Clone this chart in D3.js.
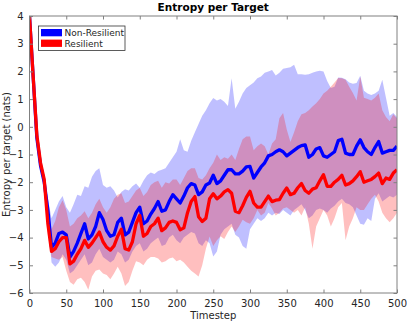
<!DOCTYPE html>
<html>
<head>
<meta charset="utf-8">
<script src="https://cdn.jsdelivr.net/npm/d3@7"></script>
<style>
  body { margin: 0; background: #fff; }
  svg { display: block; font-family: "DejaVu Sans", sans-serif; }
</style>
</head>
<body>
<div id="chart"></div>
<script>
const width = 407;
const height = 322;

// timesteps sampled every 5
const steps = d3.range(0, 505, 5);

const blueMean = [4.0, 1.8, -0.4, -1.4, -2.0, -3.0, -4.35, -4.2, -3.85, -3.8,
  -3.9, -4.7, -4.5, -4.2, -3.85, -3.5, -4.05, -3.9, -3.6, -3.1,
  -3.35, -3.75, -3.95, -3.9, -3.45, -3.3, -3.9, -3.8, -3.45, -3.1,
  -2.9, -3.5, -3.4, -3.15, -2.95, -2.7, -3.05, -3.0, -2.7, -2.45,
  -2.6, -2.75, -2.5, -2.2, -2.05, -2.1, -2.45, -2.35, -2.1, -2.03,
  -1.75, -2.05, -1.95, -1.75, -1.55, -1.55, -1.7, -1.7, -1.6, -1.45,
  -1.43, -1.85, -1.65, -1.45, -1.3, -1.05, -1.0, -0.9, -0.83, -0.9,
  -1.05, -0.95, -0.85, -0.75, -0.68, -0.65, -1.1, -1.0, -0.8, -0.75,
  -1.05, -1.1, -1.0, -0.9, -0.5, -0.45, -0.95, -1.0, -1.0, -0.7,
  -0.47, -0.75, -0.9, -1.0, -0.75, -0.53, -0.95, -0.9, -0.85, -0.85, -0.7];

const redMean = [4.0, 1.8, -0.3, -1.3, -1.9, -3.5, -4.5, -4.4, -4.15, -4.0,
  -4.0, -4.95, -4.85, -4.6, -4.4, -4.1, -4.35, -4.2, -4.0, -3.8,
  -4.15, -4.35, -4.45, -4.3, -3.95, -3.7, -4.4, -4.45, -4.15, -3.5,
  -3.2, -3.95, -3.85, -3.6, -3.5, -3.3, -3.75, -3.65, -3.45, -3.4,
  -3.45, -3.72, -3.65, -3.1, -2.7, -2.52, -3.25, -3.42, -3.3, -2.6,
  -2.42, -2.6, -2.5, -2.35, -2.27, -2.4, -3.05, -3.1, -2.85, -2.55,
  -2.33, -2.75, -2.9, -2.9, -2.7, -2.5, -2.7, -2.65, -2.63, -2.4,
  -2.21, -2.45, -2.4, -2.2, -2.05, -2.3, -2.4, -2.25, -2.2, -1.95,
  -1.73, -2.15, -2.15, -2.0, -1.9, -1.75, -2.1, -2.05, -1.95, -1.8,
  -1.62, -2.0, -1.95, -1.9, -1.8, -1.67, -2.05, -1.85, -1.9, -1.67, -1.55];

const blueUpper = [4.0, 2.0, -0.2, -1.1, -1.7, -2.6, -3.3, -3.0, -2.7, -2.5,
  -2.9, -3.1, -2.8, -2.45, -2.5, -2.15, -2.2, -1.8, -1.6, -1.5,
  -2.1, -2.2, -2.15, -2.3, -2.55, -2.35, -2.25, -2.3, -2.15, -2.05,
  -2.2, -1.95, -1.75, -1.65, -1.7, -1.6, -1.55, -1.5, -1.3, -1.1,
  -0.9, -0.45, -0.85, -0.9, -0.5, -0.2, 0.1, 0.4, 0.6, 0.85,
  1.04, 0.95, 1.0, 0.9, 0.75, 1.75, 0.65, 0.9, 1.2, 1.4,
  1.5, 1.6, 1.75, 1.82, 1.95, 2.0, 2.05, 1.85, 1.95, 2.1,
  2.12, 2.15, 2.24, 1.9, 1.9, 1.88, 1.9, 1.95, 2.0, 2.02,
  2.0, 1.65, 1.4, 1.45, 1.78, 1.77, 1.72, 1.6, 1.55, 1.58,
  1.84, 1.3, 1.2, 1.15, 1.2, 1.3, 1.7, 1.05, 0.4, 0.5, 0.35];

const blueLower = [4.0, 1.75, -0.55, -1.55, -2.15, -3.5, -4.9, -5.05, -4.9, -4.6,
  -4.8, -5.3, -5.2, -5.0, -4.8, -4.6, -5.0, -4.9, -4.6, -4.4,
  -4.7, -4.8, -4.9, -4.8, -4.5, -4.6, -4.9, -4.8, -4.5, -4.3,
  -4.2, -4.5, -4.4, -4.2, -4.1, -4.0, -4.3, -4.25, -4.0, -3.9,
  -4.1, -4.2, -4.0, -3.9, -3.8, -3.85, -4.2, -4.3, -4.1, -4.2,
  -4.68, -4.5, -3.9, -3.7, -3.6, -3.5, -3.9, -4.0, -4.3, -4.4,
  -3.7, -3.5, -3.3, -3.4, -3.3, -3.1, -3.2, -3.1, -3.15, -3.0,
  -3.1, -3.2, -3.0, -2.9, -2.8, -3.0, -3.3, -3.2, -3.0, -2.95,
  -3.0, -3.1, -2.95, -2.85, -2.7, -2.6, -2.75, -2.8, -2.9, -3.2,
  -3.5, -3.54, -3.3, -3.4, -2.6, -2.4, -2.7, -2.6, -2.5, -2.55, -2.45];

const redUpper = [4.0, 1.9, -0.25, -1.2, -1.8, -2.9, -3.7, -3.4, -2.9, -2.65,
  -3.0, -3.6, -3.5, -3.3, -3.2, -3.05, -3.3, -3.1, -2.8, -2.6,
  -2.9, -3.1, -2.9, -2.6, -2.45, -2.4, -2.75, -2.7, -2.5, -2.3,
  -2.2, -2.5, -2.35, -2.1, -2.0, -1.95, -2.2, -2.0, -2.05, -1.9,
  -1.9, -2.1, -1.85, -1.6, -1.5, -1.5, -1.85, -1.9, -1.75, -1.5,
  -1.3, -1.0, -1.2, -1.1, -1.15, -1.0, -1.2, -0.8, -0.45, -0.35,
  -0.35, -0.85, -0.7, -0.6, -0.7, -1.0, -0.6, -0.45, 0.31, 0.5,
  -0.1, -0.55, -0.2, 0.2, 0.45, 0.5, 0.6, 0.73, 0.85, 1.0,
  1.2, 1.3, 1.45, 1.6, 1.76, 1.75, 1.7, 1.45, 1.22, 0.95,
  1.82, 1.05, 1.0, 0.95, 1.05, 1.2, 0.6, 0.35, 0.2, 0.45, 0.3];

const redLower = [4.0, 1.7, -0.6, -1.6, -2.2, -3.9, -4.7, -4.75, -4.8, -4.7,
  -5.2, -5.6, -5.7, -5.5, -5.45, -5.6, -5.88, -5.4, -5.2, -5.15,
  -5.3, -5.35, -5.5, -5.3, -5.05, -5.3, -5.75, -5.6, -5.2, -4.85,
  -4.9, -5.0, -4.8, -4.7, -4.7, -4.75, -4.9, -4.85, -4.75, -4.72,
  -4.85, -4.8, -4.9, -5.05, -5.2, -5.3, -5.4, -5.0, -4.4, -3.96,
  -4.3, -4.1, -3.95, -4.05, -3.8, -3.6, -3.8, -3.6, -3.36, -3.45,
  -3.5, -3.3, -3.0, -3.2, -3.1, -2.75, -2.95, -3.2, -3.1, -2.95,
  -2.9, -3.0, -3.1, -3.0, -3.2, -2.9, -3.5, -4.4, -3.6, -3.3,
  -3.0, -3.2, -3.6, -3.3, -2.9, -2.75, -4.1, -3.6, -3.3, -2.9,
  -3.0, -3.0, -2.8, -2.6, -2.45, -2.7, -3.1, -3.3, -3.45, -3.3, -3.1];

const xTicks = d3.range(0, 550, 50);
const yTicks = d3.range(-6, 5, 1);
const legendLabels = ["Non-Resilient", "Resilient"];
const legendColors = ["#0000ff", "#ff0000"];

const margin = {top: 16, right: 10, bottom: 29, left: 29.5};

const x = d3.scaleLinear()
    .domain([0, 500])
    .range([margin.left, width - margin.right]);

const y = d3.scaleLinear()
    .domain([-6, 4])
    .range([height - margin.bottom, margin.top]);

const svg = d3.select("#chart")
    .append("svg")
    .attr("width", width)
    .attr("height", height);

svg.append("clipPath")
    .attr("id", "clip")
    .append("rect")
    .attr("x", x(0))
    .attr("y", y(4))
    .attr("width", x(500) - x(0))
    .attr("height", y(-6) - y(4));

const plot = svg.append("g").attr("clip-path", "url(#clip)");

const band = (lo, hi) => d3.area()
    .x((d, i) => x(steps[i]))
    .y0((d, i) => y(lo[i]))
    .y1((d, i) => y(hi[i]));

const line = vals => d3.line()
    .x((d, i) => x(steps[i]))
    .y((d, i) => y(vals[i]));

plot.append("path")
    .datum(steps)
    .attr("d", band(blueLower, blueUpper))
    .attr("fill", "#0000ff")
    .attr("fill-opacity", 0.25);

plot.append("path")
    .datum(steps)
    .attr("d", band(redLower, redUpper))
    .attr("fill", "#ff0000")
    .attr("fill-opacity", 0.25);

plot.append("path")
    .datum(steps)
    .attr("d", line(blueMean))
    .attr("fill", "none")
    .attr("stroke", "#0000ff")
    .attr("stroke-width", 3.3)
    .attr("stroke-linejoin", "round");

plot.append("path")
    .datum(steps)
    .attr("d", line(redMean))
    .attr("fill", "none")
    .attr("stroke", "#ff0000")
    .attr("stroke-width", 3.3)
    .attr("stroke-linejoin", "round");

// axes box, ticks inside on all four sides
const axisColor = "#808080";
const tickLen = 3.5;

svg.append("rect")
    .attr("x", x(0))
    .attr("y", y(4))
    .attr("width", x(500) - x(0))
    .attr("height", y(-6) - y(4))
    .attr("fill", "none")
    .attr("stroke", axisColor)
    .attr("stroke-width", 1);

const axisB = svg.append("g")
    .attr("transform", `translate(0,${y(-6)})`)
    .call(d3.axisBottom(x).tickValues(xTicks).tickSize(-tickLen).tickPadding(7));

const axisT = svg.append("g")
    .attr("transform", `translate(0,${y(4)})`)
    .call(d3.axisTop(x).tickValues(xTicks).tickSize(-tickLen).tickFormat(""));

const axisL = svg.append("g")
    .attr("transform", `translate(${x(0)},0)`)
    .call(d3.axisLeft(y).tickValues(yTicks).tickSize(-tickLen).tickPadding(6));

const axisR = svg.append("g")
    .attr("transform", `translate(${x(500)},0)`)
    .call(d3.axisRight(y).tickValues(yTicks).tickSize(-tickLen).tickFormat(""));

[axisB, axisT, axisL, axisR].forEach(g => {
  g.select(".domain").remove();
  g.selectAll(".tick line").attr("stroke", axisColor);
  g.selectAll(".tick text")
      .attr("fill", "#262626")
      .style("font-size", "10px")
      .style("font-family", "DejaVu Sans, sans-serif");
});

svg.append("text")
    .attr("x", (x(0) + x(500)) / 2)
    .attr("y", 11)
    .attr("text-anchor", "middle")
    .style("font-size", "10.5px")
    .style("font-weight", "bold")
    .text("Entropy per Target");

svg.append("text")
    .attr("x", (x(0) + x(500)) / 2)
    .attr("y", 319)
    .attr("text-anchor", "middle")
    .attr("fill", "#262626")
    .style("font-size", "10px")
    .text("Timestep");

svg.append("text")
    .attr("transform", `translate(9.5,${(y(4) + y(-6)) / 2}) rotate(-90)`)
    .attr("text-anchor", "middle")
    .attr("fill", "#262626")
    .style("font-size", "10px")
    .text("Entropy per target (nats)");

// legend
const legend = svg.append("g").attr("transform", "translate(38.5,26)");

legend.append("rect")
    .attr("width", 86.5)
    .attr("height", 24.5)
    .attr("fill", "#fff")
    .attr("stroke", "#333")
    .attr("stroke-width", 0.8);

const item = legend.selectAll("g.item")
    .data(legendLabels)
    .join("g")
    .attr("class", "item")
    .attr("transform", (d, i) => `translate(0,${3 + i * 10.6})`);

item.append("rect")
    .attr("x", 2.5)
    .attr("y", 0)
    .attr("width", 21)
    .attr("height", 7.3)
    .attr("fill", (d, i) => legendColors[i]);

item.append("text")
    .attr("x", 26)
    .attr("y", 7)
    .attr("fill", "#262626")
    .style("font-size", "9px")
    .text(d => d);
</script>
</body>
</html>
